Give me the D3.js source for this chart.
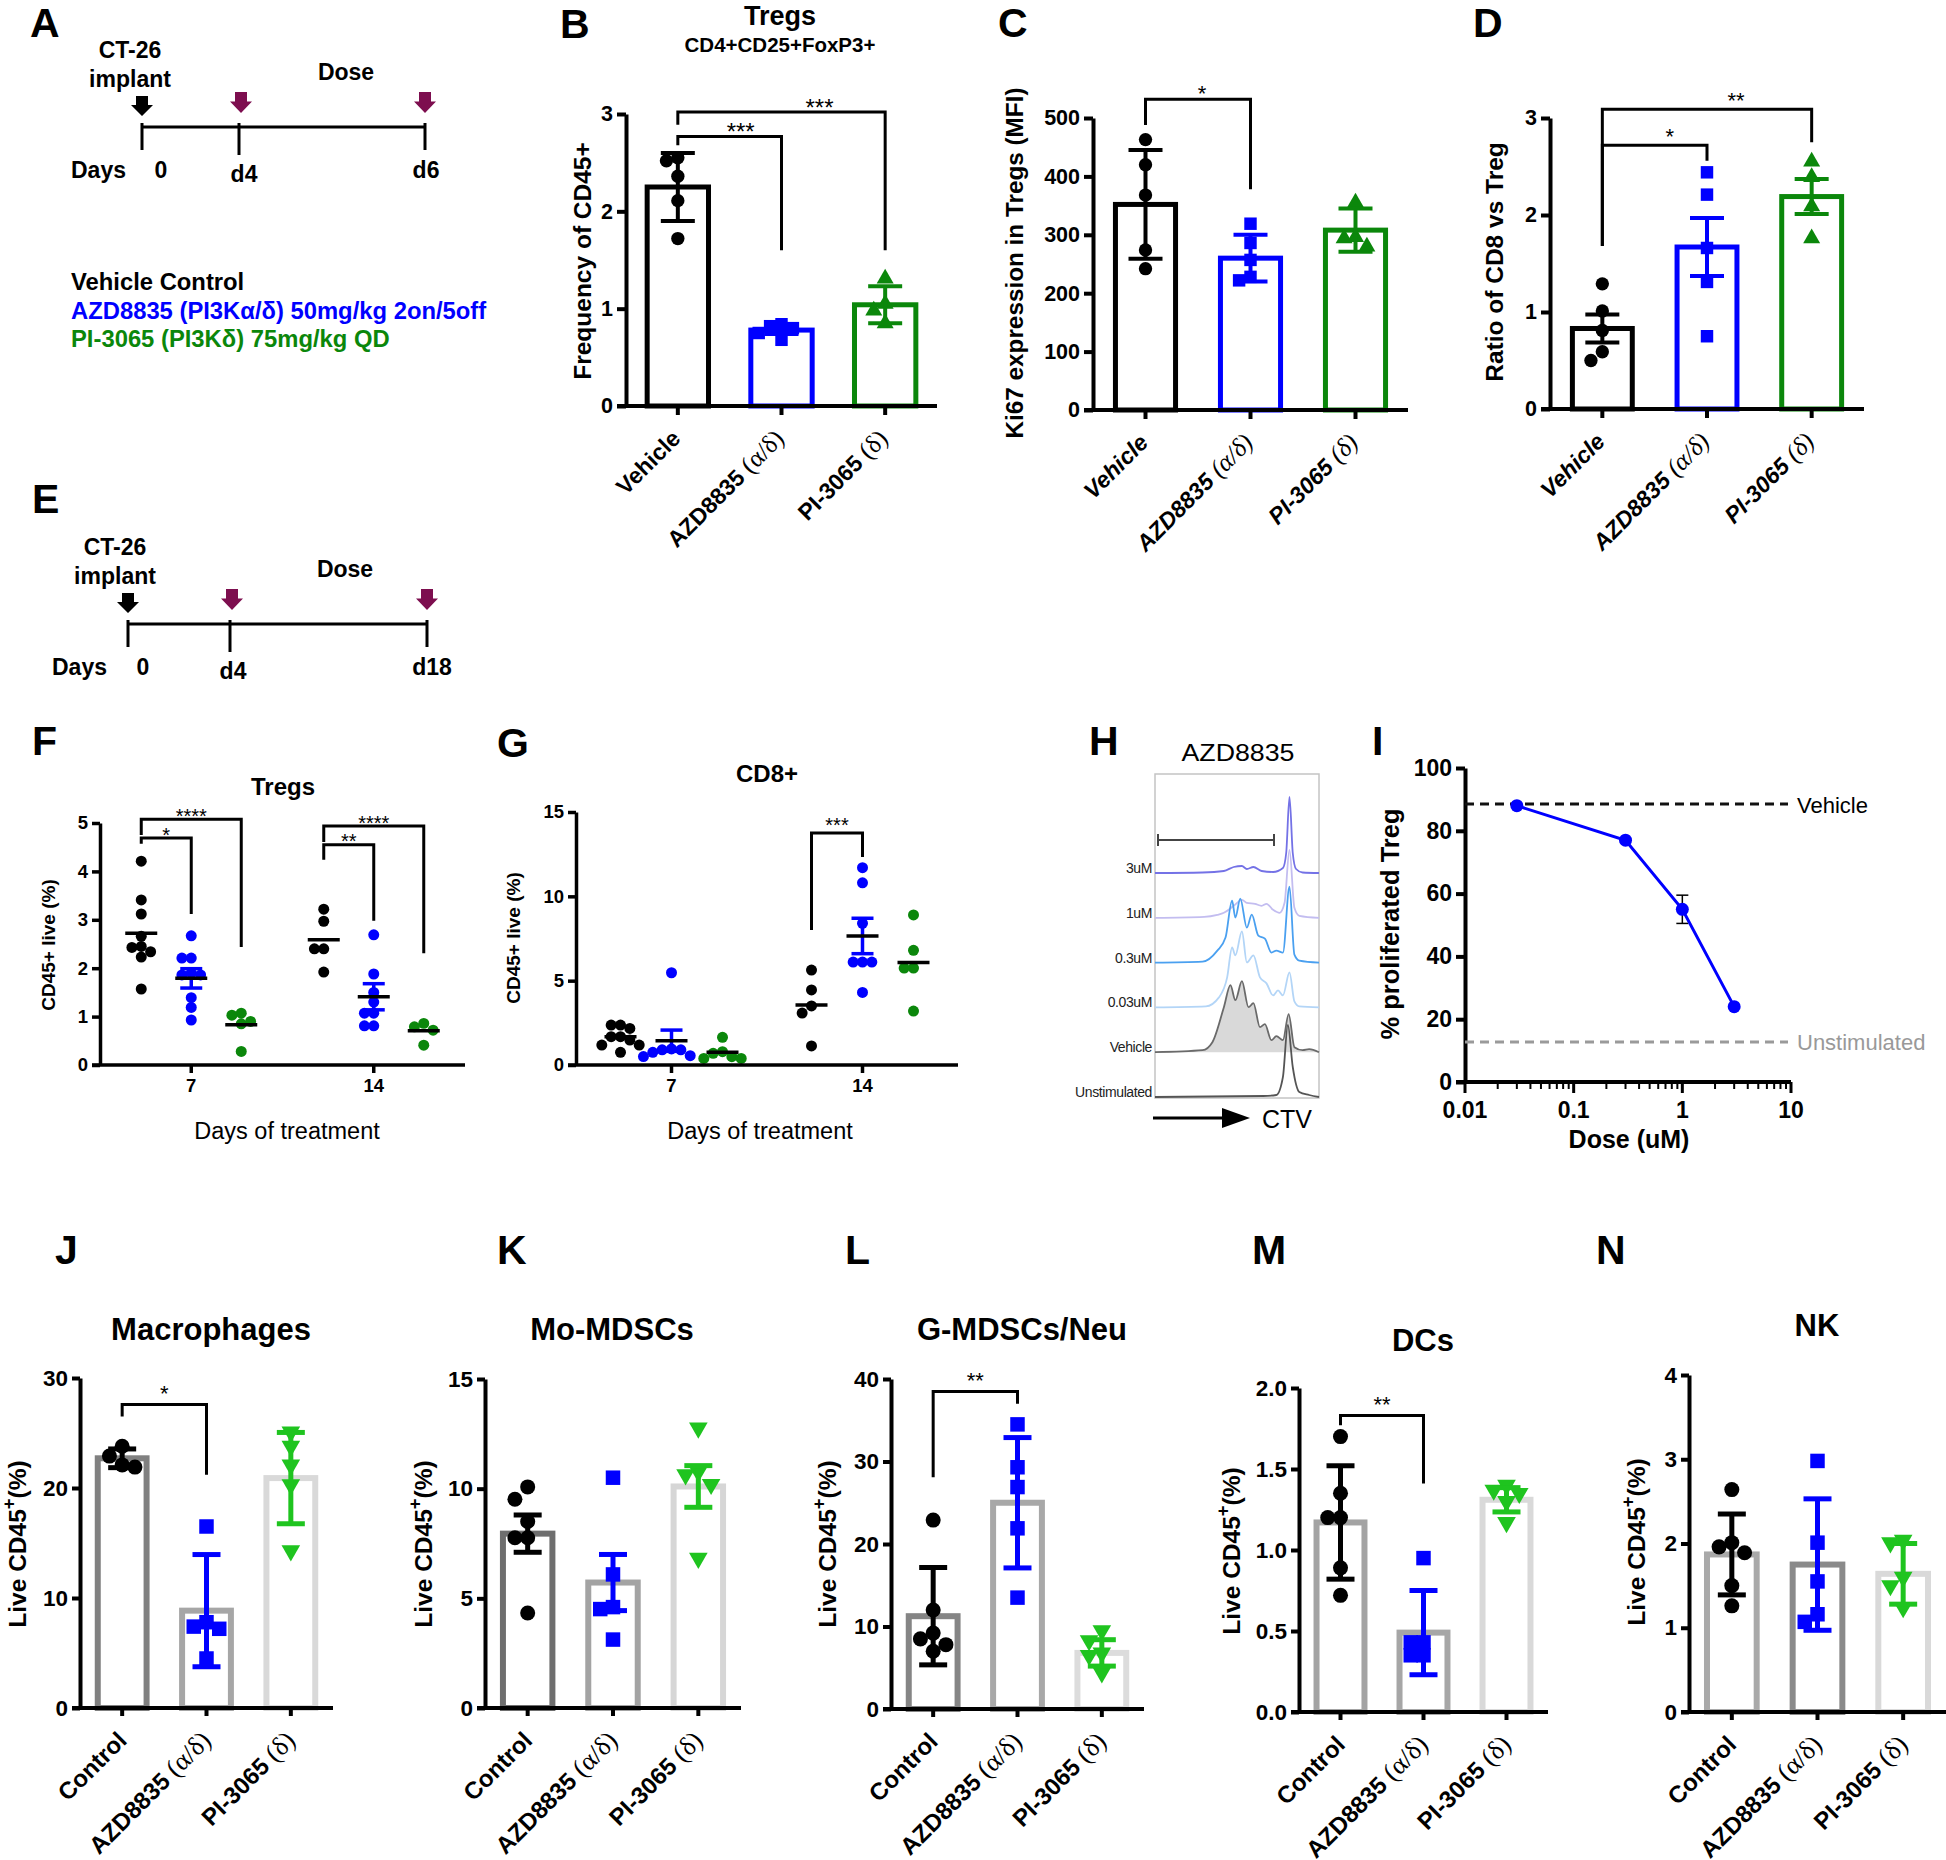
<!DOCTYPE html>
<html><head><meta charset="utf-8">
<script src="https://cdn.jsdelivr.net/npm/d3@7"></script>
<style>body{margin:0;background:#fff}</style>
</head><body><svg id="fig" width="1946" height="1860"></svg>
<script>
// ================= DATA =================
const panelLetters=["A","B","C","D","E","F","G","H","I","J","K","L","M","N"];
const timelineA=["0","d4","d6"];
const timelineE=["0","d4","d18"];
const legendA=["Vehicle Control","AZD8835 (PI3Kα/δ) 50mg/kg 2on/5off","PI-3065 (PI3Kδ) 75mg/kg QD"];
const groupsBD=["Vehicle","AZD8835","PI-3065"];
const groupsJN=["Control","AZD8835","PI-3065"];
const groupSuffix=["","(α/δ)","(δ)"];

// B Tregs frequency
const bMean=[2.25,0.78,1.04], bErr=[0.35,0.04,0.19];
const bVehicle=[2.55,2.52,2.36,2.11,1.72], bAZD=[0.84,0.82,0.80,0.75,0.68], bPI=[1.31,1.05,0.98,0.85];
const bTicks=[0,1,2,3];
// C Ki67 MFI
const cMean=[352,260,308], cErr=[93,40,37];
const cVehicle=[463,420,368,274,242], cAZD=[319,286,257,228,222], cPI=[355,296,294,280];
const cTicks=[0,100,200,300,400,500];
// D CD8/Treg ratio
const dMean=[0.83,1.67,2.19], dErr=[0.145,0.30,0.18];
const dVehicle=[1.29,1.01,0.81,0.59,0.50], dAZD=[2.44,2.21,1.66,1.31,0.75], dPI=[2.55,2.39,2.09,1.76];
const dTicks=[0,1,2,3];

// F / G (days of treatment)
const days=["7","14"];
const fBlack7=[4.21,3.41,3.12,2.66,2.45,2.43,2.34,2.23,1.57];
const fBlue7=[2.67,2.21,2.21,1.9,1.86,1.86,1.39,1.19,0.93];
const fGreen7=[1.07,1.03,0.9,0.85,0.28];
const fBlack14=[3.22,2.97,2.40,2.40,1.92];
const fBlue14=[2.69,1.88,1.50,1.3,1.07,1.07,0.81,0.81];
const fGreen14=[0.86,0.79,0.72,0.41];
const fMean7=[2.72,1.79,0.83], fMean14=[2.59,1.41,0.71];
const fSem7=[null,0.2,null], fSem14=[null,0.27,null];
const fTicks=[0,1,2,3,4,5];

const gBlack7=[2.37,2.37,2.17,1.68,1.68,1.48,1.18,1.18,0.75];
const gBlue7=[5.47,0.95,0.9,0.9,0.75,0.55,0.5];
const gGreen7=[1.64,0.79,0.69,0.49,0.39,0.39];
const gBlack14=[5.63,4.45,3.5,3.08,1.13];
const gBlue14=[11.7,10.8,8.4,6.1,6.1,6.1,4.3];
const gGreen14=[8.9,6.8,5.75,5.75,3.2];
const gMean7=[1.68,1.44,0.75], gMean14=[3.56,7.65,6.08];
const gSem7=[null,0.63,null], gSem14=[null,1.05,null];
const gTicks=[0,5,10,15];

// H histograms (CTV channel 0-100, relative count)
const hLabels=["3uM","1uM","0.3uM","0.03uM","Vehicle","Unstimulated"];
const h3uM=[[0,0],[29,0.5],[42,2],[48,6],[53,7],[56,4],[60,6],[65,2],[72,1],[78,5],[80,20],[82,76],[84,20],[86,4],[90,0.5],[100,0]];
const h1uM=[[0,0],[30,1],[38,3],[42,5],[48,12],[53,18],[56,15],[61,14],[65,12],[68,14],[72,8],[76,5],[79,15],[82,68],[85,10],[88,2],[100,0]];
const h03uM=[[0,0],[29,1],[38,12],[43,25],[47,62],[49,45],[52,64],[56,35],[59,48],[63,27],[67,24],[71,10],[74,12],[78,10],[82,76],[85,8],[88,2],[100,0]];
const h003uM=[[0,0],[31,1],[39,10],[44,30],[47,60],[49,52],[53,76],[56,45],[60,52],[64,30],[68,24],[72,12],[75,17],[78,12],[82,35],[85,6],[88,1],[100,0]];
const hVehicle=[[0,0],[29,2],[35,10],[42,45],[46,67],[49,52],[53,71],[57,45],[60,49],[64,25],[67,28],[71,12],[74,16],[78,12],[81.5,38],[85,5],[90,2],[94,3],[100,0]];
const hUnstim=[[0,0],[66,1],[74,2],[78,20],[81,72],[84,30],[88,5],[94,2],[100,0]];

// I dose response
const iDose=[0.03,0.3,1,3], iProlif=[88,77,55,24], iErr=[0,0,4.5,0];
const iVehicle=88.5, iUnstim=12.7;
const iTicksY=[0,20,40,60,80,100], iTicksX=[0.01,0.1,1,10];

// J-N myeloid / NK
const jMean=[22.7,8.85,20.9], jErr=[0.85,5.1,4.15];
const jControl=[23.8,22.9,22.1,21.9], jAZD=[16.5,7.8,7.4,7.2,4.5], jPI=[25.1,23.8,22.1,20.3,14.3];
const kMean=[7.95,5.72,10.1], kErr=[0.85,1.28,0.95];
const kControl=[10.08,9.52,8.5,7.76,7.76,4.33], kAZD=[10.5,6.09,4.6,4.51,3.12], kPI=[12.77,10.77,10.64,10.2,6.83];
const lMean=[11.25,25.0,6.8], lErr=[5.9,7.9,1.6];
const lControl=[22.9,12.0,9.2,8.5,7.8,7.0], lAZD=[34.5,29.3,26.9,21.9,13.5], lPI=[9.5,8.3,6.8,6.5,4.4];
const mMean=[1.17,0.49,1.31], mErr=[0.35,0.26,0.075];
const mControl=[1.70,1.35,1.20,1.20,0.89,0.72], mAZD=[0.95,0.43,0.43,0.35,0.35], mPI=[1.40,1.37,1.35,1.30,1.17];
const nMean=[1.87,1.75,1.64], nErr=[0.48,0.78,0.36];
const nControl=[2.64,2.01,1.96,1.89,1.50,1.26], nAZD=[2.98,2.01,1.55,1.16,1.07], nPI=[2.04,2.01,1.6,1.5,1.24];

// ================= DRAWING =================
const FONT="'Liberation Sans', Arial, Helvetica, sans-serif";
const SERIF="'Liberation Serif','Times New Roman',serif";
const BLUE="#0000ff", GREEN="#0b870b", LGREEN="#1fc41f", PURPLE="#7d0e4f";
const svg=d3.select("#fig").attr("font-family",FONT);
svg.append("rect").attr("width",1946).attr("height",1860).attr("fill","#fff");

function txt(g,x,y,s,o={}){
  const t=g.append("text").attr("x",x).attr("y",y).text(s)
    .attr("font-size",o.size||20).attr("font-weight",o.weight||"bold").attr("fill",o.fill||"#000")
    .attr("text-anchor",o.anchor||"start");
  if(o.style) t.attr("font-style",o.style);
  if(o.family) t.attr("font-family",o.family);
  if(o.len) t.attr("textLength",o.len).attr("lengthAdjust","spacingAndGlyphs");
  return t;
}
function yLabel(g,x,y,text,size,sup){
  const t=g.append("text").attr("transform",`translate(${x+0.35*size},${y}) rotate(-90)`)
    .attr("text-anchor","middle").attr("font-size",size).attr("font-weight","bold").attr("fill","#000");
  if(sup){
    t.append("tspan").text("Live CD45");
    t.append("tspan").text("+").attr("dy",-size*0.42).attr("font-size",size*0.75);
    t.append("tspan").text("(%)").attr("dy",size*0.42);
  } else t.text(text);
}
function catLabel(g,x,y,main,suffix,o){
  const t=g.append("text").attr("transform",`translate(${x},${y}) rotate(-45)`).attr("text-anchor","end")
    .attr("font-size",o.size).attr("font-weight","bold").attr("fill","#000");
  if(o.italic) t.attr("font-style","italic");
  t.append("tspan").text(main);
  if(suffix) t.append("tspan").text(" "+suffix).attr("font-family",SERIF).attr("font-weight","normal").attr("font-size",o.size*1.1);
}
function yAxis(g,y,x0,ticks,o){
  const ax=g.append("g").attr("transform",`translate(${x0},0)`)
    .call(d3.axisLeft(y).tickValues(ticks).tickSize(o.tickLen).tickSizeOuter(0).tickPadding(o.pad||4).tickFormat(o.fmt||d3.format("d")));
  ax.attr("font-family",FONT);
  ax.select(".domain").attr("stroke","#000").attr("stroke-width",o.sw);
  ax.selectAll(".tick line").attr("stroke","#000").attr("stroke-width",o.sw);
  ax.selectAll(".tick text").attr("font-size",o.font).attr("font-weight","bold").attr("fill","#000");
  return ax;
}
function swarm(vals,y,r){
  const thr=2*r*0.85, placed=[];
  return vals.map(v=>{
    const py=y(v); const cands=[0];
    for(let i=1;i<8;i++) cands.push(-i*thr,i*thr);
    let off=cands.find(c=>placed.every(p=>Math.hypot(p[0]-c,p[1]-py)>=thr));
    if(off===undefined) off=0;
    placed.push([off,py]); return off;
  });
}
const SYM={circle:d3.symbolCircle,square:d3.symbolSquare,tri:d3.symbolTriangle,triDown:d3.symbolTriangle};
function drawPts(g,vals,cx,y,shape,color,size,r){
  const offs=swarm(vals,y,r);
  vals.forEach((v,i)=>{
    g.append("path").attr("d",d3.symbol().type(SYM[shape]).size(size)())
      .attr("transform",`translate(${cx+offs[i]},${y(v)})${shape==="triDown"?" rotate(180)":""}`)
      .attr("fill",color);
  });
}
function sigBracket(g,xa,xb,y,s,o){
  g.append("path").attr("d",`M${xa},${y(s.la)}V${y(s.h)}H${xb}V${y(s.lb)}`)
    .attr("fill","none").attr("stroke","#000").attr("stroke-width",o.sigSW||3);
  txt(g,(xa+xb)/2+(s.dx||0),y(s.h)-o.starGap+0.58*o.starFont,s.t,{size:o.starFont,weight:"normal",anchor:"middle"});
}

// ---------- Panel letters ----------
const letterPos=[[30,37],[560,38],[998,37],[1473,37],[32,513],[32,755],[497,757],[1089,755],[1372,755],[55,1264],[497,1264],[845,1264],[1252,1264],[1596,1264]];
panelLetters.forEach((l,i)=>txt(svg,letterPos[i][0],letterPos[i][1],l,{size:41}));

// ---------- Timelines A / E ----------
function arrow(g,x,y0,y1,col){
  const hm=y0+(y1-y0)*0.45;
  g.append("path").attr("d",`M${x-6},${y0}H${x+6}V${hm}H${x+11}L${x},${y1}L${x-11},${hm}H${x-6}Z`).attr("fill",col);
}
function timeline(o){
  const g=svg.append("g"); const [x0,x1,x2]=o.xs; const y=o.y;
  g.append("line").attr("x1",x0).attr("x2",x2).attr("y1",y).attr("y2",y).attr("stroke","#000").attr("stroke-width",3);
  o.xs.forEach((x,i)=>g.append("line").attr("x1",x).attr("x2",x).attr("y1",y-4).attr("y2",y+(i===1?28:23)).attr("stroke","#000").attr("stroke-width",3));
  arrow(g,x0,y-31,y-11,"#000");
  arrow(g,x1+2,y-35,y-14,PURPLE); arrow(g,x2,y-35,y-14,PURPLE);
  txt(g,o.ctX,y-69,"CT-26",{size:23,anchor:"middle"});
  txt(g,o.ctX,y-40,"implant",{size:23,anchor:"middle"});
  txt(g,o.doseX,y-47,"Dose",{size:23,anchor:"middle"});
  txt(g,o.daysX,y+51,"Days",{size:23});
  o.labels.forEach((l,i)=>txt(g,o.lx[i],y+(i===1?55:51),l,{size:23,anchor:"middle"}));
}
timeline({xs:[142,239,425],y:127,ctX:130,doseX:346,daysX:71,labels:timelineA,lx:[161,244,426]});
timeline({xs:[128,230,427],y:624,ctX:115,doseX:345,daysX:52,labels:timelineE,lx:[143,233,432]});
const legCol=["#000",BLUE,GREEN];
legendA.forEach((t,i)=>txt(svg,71,290+i*28.5,t,{size:23.8,fill:legCol[i]}));

// ---------- Bar panels ----------
function barPanel(o){
  const g=svg.append("g");
  const y=d3.scaleLinear().domain([0,o.max]).range([o.y0,o.y1]);
  const x=d3.scaleBand().domain(o.groups).range([o.ax,o.xEnd]).paddingInner(o.pad).paddingOuter(o.pad/2);
  const bw=x.bandwidth(); const cx=d=>x(d)+bw/2;
  o.groups.forEach((gn,i)=>{
    g.append("rect").attr("x",cx(gn)-bw/2+o.barSW/2).attr("width",bw-o.barSW)
      .attr("y",y(o.mean[i])).attr("height",o.y0-y(o.mean[i]))
      .attr("fill","#fff").attr("stroke",o.barColors[i]).attr("stroke-width",o.barSW);
  });
  o.pts.forEach((vals,i)=>drawPts(g,vals,cx(o.groups[i]),y,o.shapes[i],o.ptColors[i],o.ptSize[i],o.ptR));
  o.groups.forEach((gn,i)=>{
    const c=cx(gn), m=o.mean[i], e=o.err[i], col=o.ptColors[i];
    g.append("line").attr("x1",c).attr("x2",c).attr("y1",y(m-e)).attr("y2",y(m+e)).attr("stroke",col).attr("stroke-width",o.errSW);
    [m-e,m+e].forEach(v=>g.append("line").attr("x1",c-o.cap).attr("x2",c+o.cap).attr("y1",y(v)).attr("y2",y(v)).attr("stroke",col).attr("stroke-width",o.errSW));
  });
  yAxis(g,y,o.ax,o.ticks,{tickLen:o.tickLen,sw:o.axisSW,font:o.tickFont,fmt:o.fmt});
  g.append("line").attr("x1",o.ax-o.tickLen).attr("x2",o.xEnd).attr("y1",o.y0).attr("y2",o.y0).attr("stroke","#000").attr("stroke-width",o.axisSW);
  o.groups.forEach((gn,i)=>{
    g.append("line").attr("x1",cx(gn)).attr("x2",cx(gn)).attr("y1",o.y0).attr("y2",o.y0+o.tickLen).attr("stroke","#000").attr("stroke-width",o.axisSW);
    catLabel(g,cx(gn)+(o.lblDx||4),o.y0+34,gn,groupSuffix[i],{size:o.labelFont,italic:o.italic});
  });
  yLabel(g,o.ylx,o.yly,o.ylabel,o.ylSize,o.sup);
  if(o.title) txt(g,o.title[0],o.title[1],o.title[2],{size:o.title[3],anchor:"middle"});
  (o.sig||[]).forEach(s=>sigBracket(g,cx(o.groups[s.a]),cx(o.groups[s.b]),y,s,o));
}

const shapesBD=["circle","square","tri"], colBD=["#000",BLUE,GREEN];
const shapesJN=["circle","square","triDown"], colJN=["#000",BLUE,LGREEN];
const commonBD={groups:groupsBD,pad:0.36,barSW:5,barColors:colBD,ptColors:colBD,shapes:shapesBD,ptSize:[140,155,125],ptR:6.7,errSW:4,cap:17,tickLen:9,axisSW:4,tickFont:21.5,labelFont:23,sigSW:3};
barPanel(Object.assign({},commonBD,{ax:626,xEnd:937,y0:406,y1:114,max:3,ticks:bTicks,mean:bMean,err:bErr,pts:[bVehicle,bAZD,bPI],
  ylabel:"Frequency of CD45+",ylx:582,yly:261,ylSize:24.5,title:[780,25,"Tregs",27],starFont:24,starGap:10,
  sig:[{a:0,b:1,h:2.77,la:2.68,lb:1.6,t:"***",dx:11},{a:0,b:2,h:3.02,la:2.89,lb:1.6,t:"***",dx:38}]}));
txt(svg,780,52,"CD4+CD25+FoxP3+",{size:20.5,anchor:"middle"});
barPanel(Object.assign({},commonBD,{ax:1093,xEnd:1408,y0:410,y1:118,max:500,ticks:cTicks,mean:cMean,err:cErr,pts:[cVehicle,cAZD,cPI],italic:true,pad:0.38,
  ylabel:"Ki67 expression in Tregs (MFI)",ylx:1014,yly:263,ylSize:24.3,starFont:22,starGap:11,
  sig:[{a:0,b:1,h:532,la:488,lb:378,t:"*",dx:4}]}));
barPanel(Object.assign({},commonBD,{ax:1550,xEnd:1864,y0:409,y1:118,max:3,ticks:dTicks,mean:dMean,err:dErr,pts:[dVehicle,dAZD,dPI],italic:true,pad:0.38,
  ylabel:"Ratio of CD8 vs Treg",ylx:1494,yly:262,ylSize:24.5,starFont:22,starGap:14,
  sig:[{a:0,b:1,h:2.72,la:1.68,lb:2.56,t:"*",dx:15},{a:0,b:2,h:3.09,la:1.68,lb:2.75,t:"**",dx:29}]}));

const commonJN={groups:groupsJN,pad:0.35,barSW:6,ptColors:colJN,shapes:shapesJN,ptSize:[177,210,150],ptR:7.5,errSW:5,cap:14,tickLen:8,axisSW:4,tickFont:22.5,labelFont:24,lblDx:6,sup:true,ylSize:24.5,starFont:22,starGap:16,sigSW:3};
barPanel(Object.assign({},commonJN,{ax:80,xEnd:333,y0:1708,y1:1378,max:30,ticks:[0,10,20,30],mean:jMean,err:jErr,pts:[jControl,jAZD,jPI],
  barColors:["#808080","#a6a6a6","#d9d9d9"],ylx:17,yly:1544,title:[211,1340,"Macrophages",31],
  sig:[{a:0,b:1,h:27.6,la:26.5,lb:21.2,t:"*"}]}));
barPanel(Object.assign({},commonJN,{ax:485,xEnd:741,y0:1708,y1:1379,max:15,ticks:[0,5,10,15],mean:kMean,err:kErr,pts:[kControl,kAZD,kPI],
  barColors:["#6e6e6e","#a3a3a3","#d6d6d6"],ylx:423,yly:1544,title:[612,1340,"Mo-MDSCs",31]}));
barPanel(Object.assign({},commonJN,{ax:891,xEnd:1144,y0:1709,y1:1379,max:40,ticks:[0,10,20,30,40],mean:lMean,err:lErr,pts:[lControl,lAZD,lPI],
  barColors:["#858585","#a8a8a8","#dcdcdc"],ylx:827,yly:1544,title:[1022,1340,"G-MDSCs/Neu",31],
  sig:[{a:0,b:1,h:38.5,la:28.1,lb:37,t:"**"}]}));
barPanel(Object.assign({},commonJN,{ax:1299,xEnd:1548,y0:1712,y1:1388,max:2,ticks:[0,0.5,1,1.5,2],fmt:d3.format(".1f"),mean:mMean,err:mErr,pts:[mControl,mAZD,mPI],
  barColors:["#a3a3a3","#a6a6a6","#d9d9d9"],ylx:1231,yly:1551,title:[1423,1351,"DCs",31],
  sig:[{a:0,b:1,h:1.83,la:1.77,lb:1.41,t:"**"}]}));
barPanel(Object.assign({},commonJN,{ax:1689,xEnd:1946,y0:1712,y1:1375,max:4,ticks:[0,1,2,3,4],mean:nMean,err:nErr,pts:[nControl,nAZD,nPI],
  barColors:["#a9a9a9","#8a8a8a","#d9d9d9"],ylx:1636,yly:1542,title:[1817,1336,"NK",31]}));

// ---------- Dot panels F / G ----------
function dotPanel(o){
  const g=svg.append("g");
  const y=d3.scaleLinear().domain([0,o.max]).range([o.y0,o.y1]);
  const x=d3.scaleBand().domain(days).range([o.ax,o.xEnd]);
  const gx=d3.scalePoint().domain([0,1,2]).range([-o.gOff,o.gOff]);
  const cx=(di,k)=>x(days[di])+x.bandwidth()/2+gx(k);
  const cols=["#000",BLUE,GREEN];
  o.data.forEach((grp,di)=>grp.forEach((vals,k)=>drawPts(g,vals,cx(di,k),y,"circle",cols[k],95,5.5)));
  o.sem.forEach((arr,di)=>arr.forEach((e,k)=>{
    if(e==null) return; const c=cx(di,k), m=o.means[di][k];
    g.append("line").attr("x1",c).attr("x2",c).attr("y1",y(m-e)).attr("y2",y(m+e)).attr("stroke",cols[k]).attr("stroke-width",3.5);
    [m-e,m+e].forEach(v=>g.append("line").attr("x1",c-11).attr("x2",c+11).attr("y1",y(v)).attr("y2",y(v)).attr("stroke",cols[k]).attr("stroke-width",3.5));
  }));
  o.means.forEach((arr,di)=>arr.forEach((m,k)=>{
    const c=cx(di,k);
    g.append("line").attr("x1",c-16).attr("x2",c+16).attr("y1",y(m)).attr("y2",y(m)).attr("stroke","#000").attr("stroke-width",3.5);
  }));
  yAxis(g,y,o.ax,o.ticks,{tickLen:8,sw:3.5,font:18.5});
  g.append("line").attr("x1",o.ax-8).attr("x2",o.xEnd).attr("y1",o.y0).attr("y2",o.y0).attr("stroke","#000").attr("stroke-width",3.5);
  days.forEach((d,di)=>{
    const c=x(d)+x.bandwidth()/2;
    g.append("line").attr("x1",c).attr("x2",c).attr("y1",o.y0).attr("y2",o.y0+8).attr("stroke","#000").attr("stroke-width",3.5);
    txt(g,c,o.y0+27,d,{size:18.5,anchor:"middle"});
  });
  txt(g,o.dx,o.y0+74,"Days of treatment",{size:23.5,weight:"normal",anchor:"middle"});
  yLabel(g,o.ylx,o.yly,"CD45+ live (%)",19);
  txt(g,o.title[0],o.title[1],o.title[2],{size:24,anchor:"middle"});
  o.sig.forEach(s=>sigBracket(g,cx(s.day,s.a),cx(s.day,s.b),y,s,{starFont:20,starGap:o.starGap,sigSW:3}));
}
dotPanel({ax:100,xEnd:465,y0:1065,y1:823,max:5,ticks:fTicks,gOff:50,dx:287,
  data:[[fBlack7,fBlue7,fGreen7],[fBlack14,fBlue14,fGreen14]],means:[fMean7,fMean14],sem:[fSem7,fSem14],
  ylx:48,yly:945,title:[283,795,"Tregs"],starGap:8,
  sig:[{day:0,a:0,b:1,h:4.69,la:4.57,lb:3.12,t:"*"},{day:0,a:0,b:2,h:5.08,la:4.75,lb:2.44,t:"****"},
       {day:1,a:0,b:1,h:4.55,la:4.24,lb:2.98,t:"**"},{day:1,a:0,b:2,h:4.94,la:4.61,lb:2.31,t:"****"}]});
dotPanel({ax:576,xEnd:958,y0:1065,y1:812,max:15,ticks:gTicks,gOff:51,dx:760,
  data:[[gBlack7,gBlue7,gGreen7],[gBlack14,gBlue14,gGreen14]],means:[gMean7,gMean14],sem:[gSem7,gSem14],
  ylx:513,yly:938,title:[767,782,"CD8+"],starGap:13,
  sig:[{day:1,a:0,b:1,h:13.75,la:8.0,lb:12.33,t:"***"}]});

// ---------- Panel H ----------
(function(){
  const g=svg.append("g");
  const x=d3.scaleLinear().domain([0,100]).range([1155,1319]);
  const base=d3.scalePoint().domain(hLabels).range([873,1097]);
  const hy=d3.scaleLinear().domain([0,100]).range([0,100]);
  txt(g,1238,761,"AZD8835",{size:24,weight:"normal",anchor:"middle",len:113});
  g.append("rect").attr("x",1155).attr("y",774).attr("width",164).attr("height",324).attr("fill","none").attr("stroke","#c4c4c4").attr("stroke-width",1.5);
  g.append("line").attr("x1",1158).attr("x2",1274).attr("y1",840).attr("y2",840).attr("stroke","#444").attr("stroke-width",2);
  [1158,1274].forEach(xx=>g.append("line").attr("x1",xx).attr("x2",xx).attr("y1",834).attr("y2",846).attr("stroke","#444").attr("stroke-width",2));
  const traces=[h3uM,h1uM,h03uM,h003uM,hVehicle,hUnstim];
  const cols=["#7472e6","#c3bdf0","#4aa0f0","#b3d5f7","#6a6a6a","#555"];
  traces.forEach((tr,i)=>{
    const b=base(hLabels[i]);
    const line=d3.line().x(d=>x(d[0])).y(d=>b-hy(d[1])).curve(d3.curveMonotoneX);
    if(hLabels[i]==="Vehicle"){
      const area=d3.area().x(d=>x(d[0])).y0(b).y1(d=>b-hy(d[1])).curve(d3.curveMonotoneX);
      g.append("path").attr("d",area(tr)).attr("fill","#d9d9d9");
    }
    g.append("path").attr("d",line(tr)).attr("fill","none").attr("stroke",cols[i]).attr("stroke-width",1.8);
    txt(g,1152,b,hLabels[i],{size:14,weight:"normal",anchor:"end",fill:"#222"}).attr("letter-spacing",-0.4);
  });
  g.append("line").attr("x1",1153).attr("x2",1226).attr("y1",1118).attr("y2",1118).attr("stroke","#000").attr("stroke-width",3);
  g.append("path").attr("d","M1222,1108L1250,1118L1222,1128Z").attr("fill","#000");
  txt(g,1262,1128,"CTV",{size:25,weight:"normal"});
})();

// ---------- Panel I ----------
(function(){
  const g=svg.append("g");
  const x=d3.scaleLog().domain([0.01,10]).range([1465,1791]);
  const y=d3.scaleLinear().domain([0,100]).range([1082,768]);
  yAxis(g,y,1465,iTicksY,{tickLen:9,sw:4,font:23});
  g.append("line").attr("x1",1456).attr("x2",1791).attr("y1",1082).attr("y2",1082).attr("stroke","#000").attr("stroke-width",4);
  iTicksX.forEach(t=>{
    g.append("line").attr("x1",x(t)).attr("x2",x(t)).attr("y1",1082).attr("y2",1093).attr("stroke","#000").attr("stroke-width",3);
    txt(g,x(t),1118,String(t),{size:23,anchor:"middle"});
  });
  iTicksX.slice(0,3).forEach(dd=>{for(let k=2;k<10;k++){
    g.append("line").attr("x1",x(dd*k)).attr("x2",x(dd*k)).attr("y1",1082).attr("y2",1089).attr("stroke","#000").attr("stroke-width",2);
  }});
  txt(g,1629,1148,"Dose (uM)",{size:25,anchor:"middle"});
  yLabel(g,1390,924,"% proliferated Treg",25.5);
  g.append("line").attr("x1",1465).attr("x2",1788).attr("y1",y(iVehicle)).attr("y2",y(iVehicle)).attr("stroke","#111").attr("stroke-width",3).attr("stroke-dasharray","9,6");
  g.append("line").attr("x1",1465).attr("x2",1788).attr("y1",y(iUnstim)).attr("y2",y(iUnstim)).attr("stroke","#9a9a9a").attr("stroke-width",3).attr("stroke-dasharray","9,6");
  txt(g,1797,y(iVehicle)+9,"Vehicle",{size:22,weight:"normal"});
  txt(g,1797,y(iUnstim)+8,"Unstimulated",{size:22,weight:"normal",fill:"#999"});
  iDose.forEach((d,i)=>{ if(!iErr[i]) return;
    const c=x(d);
    g.append("line").attr("x1",c).attr("x2",c).attr("y1",y(iProlif[i]-iErr[i])).attr("y2",y(iProlif[i]+iErr[i])).attr("stroke","#000").attr("stroke-width",1.5);
    [iProlif[i]-iErr[i],iProlif[i]+iErr[i]].forEach(v=>g.append("line").attr("x1",c-6).attr("x2",c+6).attr("y1",y(v)).attr("y2",y(v)).attr("stroke","#000").attr("stroke-width",1.5));
  });
  const line=d3.line().x((d,i)=>x(iDose[i])).y(d=>y(d));
  g.append("path").attr("d",line(iProlif)).attr("fill","none").attr("stroke",BLUE).attr("stroke-width",3);
  iProlif.forEach((v,i)=>g.append("circle").attr("cx",x(iDose[i])).attr("cy",y(v)).attr("r",6.5).attr("fill",BLUE));
})();
</script></body></html>
